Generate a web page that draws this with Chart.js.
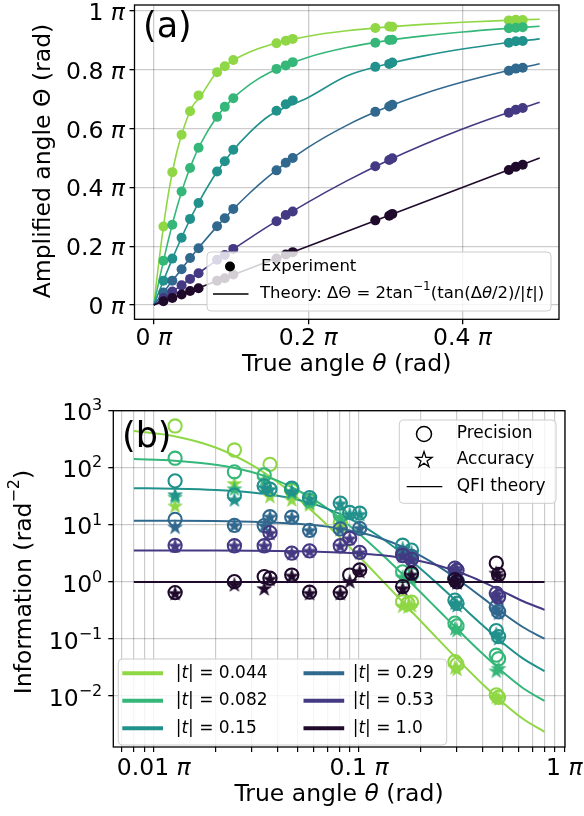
<!DOCTYPE html>
<html>
<head>
<meta charset="utf-8">
<script src="https://cdn.jsdelivr.net/npm/chart.js@4.4.1/dist/chart.umd.min.js"></script>
<style>
  html, body { margin: 0; padding: 0; background: #fff; }
  #wrap { position: relative; width: 584px; height: 816px; }
  canvas { position: absolute; left: 0; }
  #chartA { top: 0; }
  #chartB { top: 390px; }
</style>
</head>
<body>
<div id="wrap">
  <canvas id="chartA" width="584" height="390"></canvas>
  <canvas id="chartB" width="584" height="426"></canvas>
</div>
<script>
const FONT = "'DejaVu Sans', 'Liberation Sans', sans-serif";
Chart.defaults.font.family = FONT;
Chart.defaults.color = '#000';

// Transmission amplitudes |t| and their colours
const tLabels = ['0.044', '0.082', '0.15', '0.29', '0.53', '1.0'];
const tColors = ['#8fd744', '#35b779', '#21918c', '#31688e', '#443983', '#1f0a2c'];

// ---------- Panel (a): amplified angle vs true angle (both in units of π) ----------
const thetaMeasA = [0.0125, 0.024, 0.036, 0.047, 0.058, 0.082, 0.092, 0.103, 0.159, 0.171, 0.18, 0.287, 0.305, 0.309, 0.46, 0.469, 0.478];
const expA044 = [0.267, 0.452, 0.579, 0.659, 0.713, 0.792, 0.812, 0.833, 0.890, 0.899, 0.905, 0.942, 0.947, 0.946, 0.968, 0.970, 0.969];
const expA082 = [0.151, 0.273, 0.386, 0.466, 0.535, 0.640, 0.674, 0.703, 0.803, 0.815, 0.826, 0.892, 0.901, 0.902, 0.941, 0.943, 0.945];
const expA15  = [0.083, 0.158, 0.229, 0.293, 0.347, 0.454, 0.489, 0.528, 0.661, 0.683, 0.696, 0.810, 0.820, 0.825, 0.892, 0.897, 0.898];
const expA29  = [0.043, 0.083, 0.122, 0.160, 0.193, 0.268, 0.295, 0.327, 0.458, 0.484, 0.500, 0.657, 0.675, 0.681, 0.797, 0.804, 0.807];
const expA53  = [0.024, 0.046, 0.067, 0.089, 0.108, 0.154, 0.170, 0.191, 0.285, 0.306, 0.318, 0.472, 0.493, 0.499, 0.654, 0.664, 0.670];
const expA1   = [0.013, 0.024, 0.036, 0.048, 0.057, 0.083, 0.091, 0.104, 0.158, 0.172, 0.180, 0.288, 0.304, 0.310, 0.459, 0.470, 0.477];

const thetaTheoryA = [0, 0.0025, 0.005, 0.0075, 0.01, 0.015, 0.02, 0.03, 0.04, 0.05, 0.06, 0.08, 0.1, 0.125, 0.15, 0.2, 0.25, 0.3, 0.35, 0.4, 0.45, 0.5];
const theoryA044 = [0, 0.0567, 0.1125, 0.1665, 0.2183, 0.3130, 0.3948, 0.5221, 0.6115, 0.6755, 0.7072, 0.7868, 0.8275, 0.8614, 0.8846, 0.9143, 0.9326, 0.9452, 0.9544, 0.9615, 0.9672, 0.9720];
const theoryA082 = [0, 0.0305, 0.0608, 0.0908, 0.1205, 0.1782, 0.2330, 0.3323, 0.4166, 0.4869, 0.5451, 0.6337, 0.6959, 0.7511, 0.7905, 0.8426, 0.8756, 0.8984, 0.9153, 0.9285, 0.9391, 0.9479];
const theoryA15  = [0, 0.0167, 0.0333, 0.0499, 0.0664, 0.0992, 0.1315, 0.1939, 0.2528, 0.3076, 0.3580, 0.4458, 0.5173, 0.5887, 0.6445, 0.7058, 0.7788, 0.8177, 0.8472, 0.8704, 0.8893, 0.9052];
const theoryA29  = [0, 0.0086, 0.0172, 0.0258, 0.0345, 0.0516, 0.0687, 0.1026, 0.1360, 0.1687, 0.2006, 0.2617, 0.3182, 0.3827, 0.4402, 0.5361, 0.6111, 0.6706, 0.7186, 0.7582, 0.7916, 0.8203];
const theoryA53  = [0, 0.0047, 0.0094, 0.0141, 0.0189, 0.0283, 0.0377, 0.0565, 0.0752, 0.0938, 0.1124, 0.1491, 0.1849, 0.2286, 0.2708, 0.3501, 0.4223, 0.4875, 0.5460, 0.5988, 0.6464, 0.6897];
const thetaTheoryA1 = [0, 0.5];
const theoryA1      = [0, 0.5];

const xTicksA = [0, 0.2, 0.4];
const xTickLabelsA = ['0', '0.2', '0.4'];
const yTicksA = [0, 0.2, 0.4, 0.6, 0.8, 1];
const yTickLabelsA = ['0', '0.2', '0.4', '0.6', '0.8', '1'];

// ---------- Panel (b): information vs true angle ----------
const thetaMeasB = [0.0127, 0.0247, 0.0345, 0.0368, 0.047, 0.0574, 0.081, 0.090, 0.1007, 0.163, 0.173, 0.18, 0.293, 0.30, 0.466, 0.478];
const precB044 = [540, 205, null, 115, 40, 26, 11, null, null, 0.45, 0.42, 0.44, 0.040, 0.036, 0.0105, 0.0095];
const accB044  = [21, 52, null, 31, 27, 22, 9.5, null, null, 0.37, 0.36, 0.38, 0.031, 0.029, 0.0095, 0.0088];
const precB082 = [147, 85, 75, null, 42, 27, 15, null, null, 1.5, null, 1.35, 0.19, 0.17, 0.052, 0.045];
const accB082  = [30, 42, 60, null, 35, 24, 13, null, null, 1.2, null, 1.1, 0.15, 0.14, 0.027, 0.030];
const precB15  = [59, 33, 48, 42, 44, 30, 24, 16.5, 16, 4.4, null, 3.6, 0.48, 0.42, 0.14, 0.11];
const accB15   = [33, 27, 44, 41, 38, 28, 23, 15, 15, 3.8, null, 3.2, 0.42, 0.38, 0.12, 0.10];
const precB29  = [12.5, 9.8, 9.7, 13.9, 13.6, 8.0, 8.5, null, 8.7, 3.2, null, 2.8, 1.2, 1.05, 0.36, 0.30];
const accB29   = [9.0, 9.6, 9.5, 13.5, 13.2, 7.8, 8.2, null, 8.5, 3.0, null, 2.6, 1.1, 1.0, 0.33, 0.28];
const precB53  = [4.35, 4.3, 4.3, 7.3, 3.2, 3.5, 4.3, 5.8, 3.3, 2.9, null, 2.5, 1.75, 1.6, 0.63, 0.55];
const accB53   = [4.2, 4.2, 4.2, 7.0, 3.1, 3.4, 4.2, 5.6, 3.2, 2.8, null, 2.4, 1.7, 1.55, 0.60, 0.52];
const precB1   = [0.65, 1.01, 1.24, 1.16, 1.32, 0.66, 0.65, 1.32, 1.62, 0.83, null, 1.42, 1.1, 1.0, 2.13, 1.35];
const accB1    = [0.62, 0.88, 0.75, 1.10, 1.25, 0.62, 0.62, 1.0, 1.5, 0.75, null, 1.3, 1.05, 0.95, 1.4, 1.25];

const thetaTheoryB = [0.008, 0.0126, 0.02, 0.03, 0.04, 0.05, 0.063, 0.08, 0.1, 0.126, 0.16, 0.2, 0.25, 0.32, 0.4, 0.5, 0.63, 0.8];
const qfiB044 = [441.7, 357.6, 226.9, 112.4, 56.17, 29.66, 14.20, 6.223, 2.786, 1.179, 0.4777, 0.2047, 0.08827, 0.03549, 0.01610, 0.007714, 0.003961, 0.002365];
const qfiB082 = [142.0, 132.9, 113.3, 84.35, 59.39, 40.79, 24.94, 13.46, 6.983, 3.302, 1.448, 0.6517, 0.2903, 0.1195, 0.05492, 0.02654, 0.01370, 0.008207];
const qfiB15  = [43.84, 42.97, 40.86, 36.97, 32.40, 27.67, 21.92, 15.68, 10.44, 6.189, 3.270, 1.677, 0.8200, 0.3618, 0.1734, 0.08608, 0.04522, 0.02737];
const qfiB29  = [11.85, 11.79, 11.64, 11.34, 10.93, 10.44, 9.715, 8.666, 7.413, 5.888, 4.246, 2.857, 1.766, 0.9555, 0.5242, 0.2862, 0.1605, 0.1010];
const qfiB53  = [3.557, 3.553, 3.542, 3.520, 3.489, 3.450, 3.389, 3.290, 3.153, 2.948, 2.653, 2.299, 1.883, 1.401, 1.003, 0.6848, 0.4579, 0.3239];
const thetaTheoryB1 = [0.008, 0.8];
const qfiB1 = [1, 1];

const xMajorB = [0.01, 0.1, 1];
const xTickLabelsB = ['0.01', '0.1', '1'];
const xMinorB = [0.007, 0.008, 0.009, 0.02, 0.03, 0.04, 0.05, 0.06, 0.07, 0.08, 0.09, 0.2, 0.3, 0.4, 0.5, 0.6, 0.7, 0.8, 0.9];
const yTicksB = [0.01, 0.1, 1, 10, 100, 1000];
const yTickExpB = ['−2', '−1', '0', '1', '2', '3'];

// ---------- helpers ----------
const GRID = 'rgba(0,0,0,0.2)';
const TICK_SIZE = 23.5;
const TITLE_SIZE = 23.5;
const pts = (xs, ys) => xs.map((x, i) => ({ x, y: ys[i] })).filter(p => p.y !== null);

function starImage(fill, stroke, R, lw) {
  let s = Math.ceil(2 * R + 2 * lw + 2);
  if (s % 2) s += 1;
  const c = document.createElement('canvas');
  c.width = s; c.height = s;
  const g = c.getContext('2d');
  g.translate(s / 2, s / 2);
  g.beginPath();
  for (let k = 0; k < 10; k++) {
    const r = k % 2 === 0 ? R : R * 0.382;
    const a = -Math.PI / 2 + k * Math.PI / 5;
    g.lineTo(r * Math.cos(a), r * Math.sin(a));
  }
  g.closePath();
  g.fillStyle = fill; g.fill();
  g.lineWidth = lw; g.strokeStyle = stroke; g.stroke();
  return c;
}

// Text made of plain / italic / superscript runs
function drawRich(ctx, parts, x, y, size, align, baseline) {
  const fontOf = s => (s === 'i' ? 'italic ' : '') + (s === 'sup' ? Math.round(size * 0.7) : size) + 'px ' + FONT;
  let total = 0;
  parts.forEach(([t, s]) => { ctx.font = fontOf(s); total += ctx.measureText(t).width; });
  let cx = x;
  if (align === 'center') cx = x - total / 2;
  else if (align === 'right') cx = x - total;
  ctx.textAlign = 'left';
  ctx.textBaseline = baseline || 'middle';
  ctx.fillStyle = '#000';
  parts.forEach(([t, s]) => {
    ctx.font = fontOf(s);
    ctx.fillText(t, cx, s === 'sup' ? y - size * 0.42 : y);
    cx += ctx.measureText(t).width;
  });
}

function drawRotated(ctx, parts, x, y, size) {
  ctx.save();
  ctx.translate(x, y);
  ctx.rotate(-Math.PI / 2);
  drawRich(ctx, parts, 0, 0, size, 'center');
  ctx.restore();
}

function legendFrame(ctx, x, y, w, h) {
  ctx.save();
  ctx.beginPath();
  if (ctx.roundRect) ctx.roundRect(x, y, w, h, 4); else ctx.rect(x, y, w, h);
  ctx.fillStyle = 'rgba(255,255,255,0.8)';
  ctx.fill();
  ctx.lineWidth = 1;
  ctx.strokeStyle = '#cccccc';
  ctx.stroke();
  ctx.restore();
}

function frame(chart) {
  const { ctx, chartArea: a } = chart;
  ctx.save();
  ctx.lineWidth = 1.3;
  ctx.strokeStyle = '#000';
  ctx.strokeRect(a.left, a.top, a.right - a.left, a.bottom - a.top);
  ctx.restore();
}

// Tick labels "<value> π" on the axes of a chart, placed through its scales
function piTickLabels(chart, xt, xl, yt, yl, xBase) {
  const { ctx, scales, chartArea: a } = chart;
  xt.forEach((v, k) => {
    drawRich(ctx, [[xl[k] + ' ', ''], ['π', 'i']], scales.x.getPixelForValue(v), xBase, TICK_SIZE, 'center', 'alphabetic');
  });
  if (yt) {
    yt.forEach((v, k) => {
      drawRich(ctx, [[yl[k] + ' ', ''], ['π', 'i']], a.left - 9.5, scales.y.getPixelForValue(v) + 9, TICK_SIZE, 'right', 'alphabetic');
    });
  }
}

// ---------- chart (a) ----------
const expA = [expA044, expA082, expA15, expA29, expA53, expA1];
const theoryA = [theoryA044, theoryA082, theoryA15, theoryA29, theoryA53, theoryA1];
const datasetsA = [];
tColors.forEach((col, i) => {
  const xs = i === 5 ? thetaTheoryA1 : thetaTheoryA;
  datasetsA.push({
    data: pts(xs, theoryA[i]), showLine: true, fill: false,
    borderColor: col, borderWidth: 1.6, pointRadius: 0, pointHitRadius: 0,
    cubicInterpolationMode: 'monotone', order: 30 - i
  });
  datasetsA.push({
    data: pts(thetaMeasA, expA[i]), showLine: false,
    pointStyle: 'circle', pointRadius: 5, pointBorderWidth: 0,
    pointBackgroundColor: col, pointBorderColor: col, order: 10 - i
  });
});

const overlayA = {
  id: 'overlayA',
  afterDatasetsDraw(chart) {
    const ctx = chart.ctx;
    legendFrame(ctx, 207, 252, 344, 59);
    ctx.save();
    ctx.fillStyle = '#000';
    ctx.beginPath(); ctx.arc(230, 266.5, 5, 0, Math.PI * 2); ctx.fill();
    ctx.lineWidth = 1.6; ctx.strokeStyle = '#000';
    ctx.beginPath(); ctx.moveTo(213, 294); ctx.lineTo(248.5, 294); ctx.stroke();
    ctx.restore();
    drawRich(ctx, [['Experiment', '']], 261, 266.5, 16.5, 'left');
    drawRich(ctx, [['Theory: ΔΘ = 2tan', ''], ['−1', 'sup'], ['(tan(Δ', ''], ['θ', 'i'], ['/2)/|', ''], ['t', 'i'], ['|)', '']], 260, 294, 16.5, 'left');
  },
  afterDraw(chart) {
    const ctx = chart.ctx;
    frame(chart);
    piTickLabels(chart, xTicksA, xTickLabelsA, yTicksA, yTickLabelsA, 345.3);
    ctx.save();
    ctx.fillStyle = '#000';
    ctx.font = '35px ' + FONT;
    ctx.textAlign = 'left'; ctx.textBaseline = 'middle';
    ctx.fillText('(a)', 143, 28);
    ctx.restore();
    drawRich(ctx, [['True angle ', ''], ['θ', 'i'], [' (rad)', '']], 346.7, 365, TITLE_SIZE, 'center');
    drawRotated(ctx, [['Amplified angle Θ (rad)', '']], 44, 161, TITLE_SIZE);
  }
};

new Chart(document.getElementById('chartA'), {
  type: 'scatter',
  data: { datasets: datasetsA },
  options: {
    responsive: false, animation: false, devicePixelRatio: 1,
    layout: { padding: { top: 3.3, right: 25, bottom: 0, left: 0 } },
    plugins: { legend: { display: false }, tooltip: { enabled: false } },
    scales: {
      x: {
        type: 'linear', min: -0.025, max: 0.525,
        afterBuildTicks: ax => { ax.ticks = xTicksA.map(v => ({ value: v })); },
        afterFit: s => { s.height = 70.7; s.paddingLeft = 0; s.paddingRight = 0; },
        ticks: { display: false },
        grid: { color: GRID, lineWidth: 1.3, tickColor: '#000', tickLength: 5, tickWidth: 1.3 },
        border: { display: false }
      },
      y: {
        type: 'linear', min: -0.0484, max: 1.0203,
        afterBuildTicks: ax => { ax.ticks = yTicksA.map(v => ({ value: v })); },
        afterFit: s => { s.width = 134.5; s.paddingTop = 0; s.paddingBottom = 0; },
        ticks: { display: false },
        grid: { color: GRID, lineWidth: 1.3, tickColor: '#000', tickLength: 5, tickWidth: 1.3 },
        border: { display: false }
      }
    }
  },
  plugins: [overlayA]
});

// ---------- chart (b) ----------
const precB = [precB044, precB082, precB15, precB29, precB53, precB1];
const accB = [accB044, accB082, accB15, accB29, accB53, accB1];
const qfiB = [qfiB044, qfiB082, qfiB15, qfiB29, qfiB53, qfiB1];
const datasetsB = [];
tColors.forEach((col, i) => {
  const xs = i === 5 ? thetaTheoryB1 : thetaTheoryB;
  datasetsB.push({
    data: pts(xs, qfiB[i]), showLine: true, fill: false,
    borderColor: col, borderWidth: 2, pointRadius: 0, pointHitRadius: 0,
    cubicInterpolationMode: 'monotone', order: 50 - i
  });
  datasetsB.push({
    data: pts(thetaMeasB, precB[i]), showLine: false,
    pointStyle: 'circle', pointRadius: 6.6, pointBorderWidth: 2.1,
    pointBackgroundColor: 'rgba(0,0,0,0)', pointBorderColor: col, order: 30 - 2 * i
  });
  datasetsB.push({
    data: pts(thetaMeasB, accB[i]), showLine: false,
    pointStyle: starImage(col, col, 7.6, 0.6), pointRadius: 8,
    pointBackgroundColor: col, pointBorderColor: col, order: 29 - 2 * i
  });
});

const legendStar = starImage('#ffffff', '#000000', 8.5, 1.3);

const overlayB = {
  id: 'overlayB',
  afterDatasetsDraw(chart) {
    const ctx = chart.ctx;
    // marker legend
    legendFrame(ctx, 399.3, 30, 156.7, 83.3);
    ctx.save();
    ctx.strokeStyle = '#000'; ctx.lineWidth = 1.5;
    ctx.beginPath(); ctx.arc(424, 44, 7.5, 0, Math.PI * 2); ctx.stroke();
    ctx.drawImage(legendStar, 424 - legendStar.width / 2, 70 - legendStar.height / 2);
    ctx.lineWidth = 1.3;
    ctx.beginPath(); ctx.moveTo(406.7, 96.7); ctx.lineTo(442.3, 96.7); ctx.stroke();
    ctx.restore();
    drawRich(ctx, [['Precision', '']], 456.7, 44, 17, 'left');
    drawRich(ctx, [['Accuracy', '']], 456.7, 70, 17, 'left');
    drawRich(ctx, [['QFI theory', '']], 456.7, 96.7, 17, 'left');

    // |t| legend
    legendFrame(ctx, 118.3, 269, 328.4, 86);
    const rows = [283.3, 310.7, 338.3];
    tLabels.forEach((lab, i) => {
      const col = Math.floor(i / 3), row = i % 3;
      const x0 = col === 0 ? 122.3 : 303.5;
      const tx = col === 0 ? 175.7 : 352.7;
      const y = rows[row];
      ctx.save();
      ctx.strokeStyle = tColors[i]; ctx.lineWidth = 4;
      ctx.beginPath(); ctx.moveTo(x0, y); ctx.lineTo(x0 + 40.7, y); ctx.stroke();
      ctx.restore();
      drawRich(ctx, [['|', ''], ['t', 'i'], ['| = ' + lab, '']], tx, y, 17, 'left');
    });
  },
  afterDraw(chart) {
    const ctx = chart.ctx;
    const { scales, chartArea: a } = chart;
    frame(chart);
    piTickLabels(chart, xMajorB, xTickLabelsB, null, null, 385.3);
    yTicksB.forEach((v, k) => {
      drawRich(ctx, [['10', ''], [yTickExpB[k], 'sup']], a.left - 11, scales.y.getPixelForValue(v) + 9.6, TICK_SIZE, 'right', 'alphabetic');
    });
    ctx.save();
    ctx.fillStyle = '#000';
    ctx.font = '35px ' + FONT;
    ctx.textAlign = 'left'; ctx.textBaseline = 'middle';
    ctx.fillText('(b)', 122, 48);
    ctx.restore();
    drawRich(ctx, [['True angle ', ''], ['θ', 'i'], [' (rad)', '']], 339, 405, TITLE_SIZE, 'center');
    drawRotated(ctx, [['Information (rad', ''], ['−2', 'sup'], [')', '']], 25, 192, TITLE_SIZE);
  }
};

new Chart(document.getElementById('chartB'), {
  type: 'scatter',
  data: { datasets: datasetsB },
  options: {
    responsive: false, animation: false, devicePixelRatio: 1,
    layout: { padding: { top: 20.7, right: 19, bottom: 0, left: 0 } },
    plugins: { legend: { display: false }, tooltip: { enabled: false } },
    scales: {
      x: {
        type: 'logarithmic', min: 0.00635, max: 1.007,
        afterBuildTicks: ax => { ax.ticks = xMajorB.concat(xMinorB).sort((p, q) => p - q).map(v => ({ value: v })); },
        afterFit: s => { s.height = 69; s.paddingLeft = 0; s.paddingRight = 0; },
        ticks: { display: false },
        grid: { color: GRID, lineWidth: 1.2, tickColor: '#000', tickLength: 5, tickWidth: 1.2 },
        border: { display: false }
      },
      y: {
        type: 'logarithmic', min: 0.00128, max: 1000,
        afterBuildTicks: ax => { ax.ticks = yTicksB.map(v => ({ value: v })); },
        afterFit: s => { s.width = 113.3; s.paddingTop = 0; s.paddingBottom = 0; },
        ticks: { display: false },
        grid: { color: GRID, lineWidth: 1.3, tickColor: '#000', tickLength: 5, tickWidth: 1.3 },
        border: { display: false }
      }
    }
  },
  plugins: [overlayB]
});
</script>
</body>
</html>
